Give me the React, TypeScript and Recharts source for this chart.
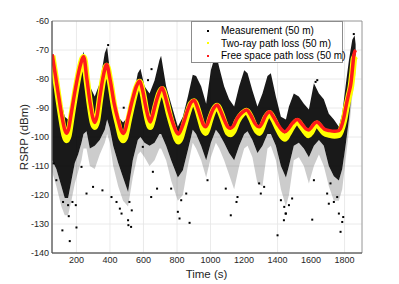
import React from "react";
import { Area, ComposedChart, CartesianGrid, Line, ReferenceArea, Scatter, XAxis, YAxis } from "recharts";

const measTime = [55, 80, 110, 130, 150, 170, 190, 210, 230, 242, 260, 280, 309, 339, 369, 383, 399, 419, 449, 478, 508, 536, 566, 582, 606, 636, 666, 695, 705, 735, 765, 805, 835, 865, 894, 914, 944, 974, 1002, 1032, 1052, 1081, 1111, 1141, 1171, 1201, 1221, 1250, 1280, 1310, 1340, 1360, 1390, 1420, 1450, 1468, 1497, 1527, 1557, 1587, 1617, 1647, 1676, 1706, 1736, 1766, 1786, 1806, 1826, 1846, 1860, 1866];
const measTop = [-71, -79, -88, -93, -94, -94, -88, -80, -73.5, -70.5, -77, -82.5, -86, -81.5, -71, -69, -77, -86, -93, -95, -93, -87, -78, -76.5, -82.5, -85, -80.5, -73.5, -72, -82.5, -88.5, -96.5, -93, -86, -78.5, -79, -82.5, -88.5, -77, -71, -76, -82.5, -87, -89.5, -82.5, -77, -78, -84, -89.5, -85, -79, -78, -86, -93, -94, -89.5, -85, -86, -88.5, -90.5, -81.5, -85, -87, -92, -94, -96.5, -92, -82.5, -73.5, -66.5, -65, -68];
const measLow = [-108, -111, -117, -121, -121, -115, -109, -106, -102, -99, -98, -104, -103, -101, -97.5, -94, -97, -103, -109, -114, -119, -108, -101, -100, -102, -103, -102, -99, -99, -103, -108, -114, -111.5, -104.5, -97.5, -99, -103, -108, -102, -97.5, -99, -102, -105.5, -108, -103, -99, -98, -101, -105.5, -103, -99, -99, -103, -110, -114, -110, -103, -102, -104, -107, -103, -101, -103, -110, -113.5, -115, -111, -103, -94, -82.5, -78, -76];
const measSparse = [-112, -117, -124, -127, -127, -122, -116, -112, -108, -104, -104, -110, -111, -106, -102, -99, -102, -110, -117, -122, -124, -114, -106, -105, -107, -110, -108, -104, -104, -108, -115, -122, -120, -110, -102, -104, -108, -114, -107, -102, -104, -108, -113, -118, -110, -104, -103, -107, -116, -117, -104, -103, -108, -118, -124, -120, -108, -107, -110, -116, -110, -106, -110, -117, -122, -122, -118, -108, -98, -86, -80, -78];

// isolated measurement points outside the cloud
const outlierTime = [116, 160, 200, 154, 120, 150, 176, 196, 299, 355, 260, 409, 439, 459, 469, 508, 510, 80, 64, 230, 482, 389, 526, 516, 530, 646, 681, 656, 805, 815, 825, 855, 875, 765, 596, 648, 627, 982, 1121, 1161, 1155, 1091, 1300, 1320, 1290, 1400, 1420, 1440, 1450, 1027, 1438, 1448, 1468, 1487, 1607, 1617, 1696, 1706, 1736, 1756, 1776, 1786, 1792, 1766, 1716, 1855, 1637, 1627];
const outlierValue = [-132.2, -135.9, -131.2, -127.3, -122.4, -123.5, -122.4, -123.5, -117.2, -118.4, -119.5, -120.7, -122.4, -124.7, -126.4, -128.7, -130.4, -114.9, -109.1, -110.3, -89.9, -68.3, -131, -122.4, -125.3, -120.7, -117.8, -112, -125.8, -128.1, -121.8, -119.5, -129.6, -117.8, -103.4, -76.6, -80.4, -114.9, -127, -120.7, -122.4, -117.8, -119.5, -117.2, -116, -133.9, -121.8, -124.1, -126.4, -66, -128.7, -126.4, -123.5, -121.2, -128.5, -114.9, -119.5, -123, -122.4, -120.7, -132.7, -129.3, -127.6, -126.4, -116, -64.5, -80.4, -81];

// model curves
const curveTime = [55, 75, 95, 115, 130, 140, 152, 170, 195, 220, 243, 262, 282, 298, 309, 322, 340, 360, 380, 400, 425, 450, 467, 478, 490, 510, 535, 558, 577, 595, 615, 630, 640, 652, 675, 695, 711, 730, 755, 780, 797, 808, 820, 840, 865, 885, 903, 920, 940, 958, 970, 982, 1000, 1020, 1040, 1060, 1085, 1105, 1120, 1135, 1160, 1190, 1215, 1240, 1265, 1280, 1292, 1305, 1330, 1352, 1375, 1400, 1425, 1444, 1462, 1490, 1518, 1545, 1570, 1585, 1600, 1620, 1635, 1655, 1680, 1710, 1740, 1765, 1780, 1795, 1810, 1825, 1838, 1848, 1856, 1866];
const freeSpace = [-71.5, -79, -86.5, -93.5, -97.5, -98.7, -97.5, -91.5, -83, -76, -72.3, -80, -88.5, -93.5, -95, -93, -86, -79, -75, -80, -88.5, -94.5, -97.8, -98.8, -97.8, -93, -87, -82.5, -80.7, -84, -90, -93.5, -94.8, -93, -88, -84.5, -83, -86, -91.5, -96, -98.3, -99, -98, -95, -90.5, -88, -87.4, -89.5, -93, -95.8, -96.5, -95.5, -92.5, -90, -89, -91, -94.5, -96.6, -97, -96.3, -93.5, -91.5, -90.7, -92.5, -95.3, -96.3, -96.5, -95.5, -92.5, -91.3, -93, -95.5, -97.5, -98.2, -97.3, -95.2, -94, -95.5, -97.2, -97.6, -96.8, -95.3, -94.8, -95.8, -97.3, -97.8, -98, -97.8, -96.5, -93.5, -89, -85, -81.5, -76, -71.5, -70];
const twoRay = [-72, -79.5, -87.5, -95, -99.5, -101, -99.5, -93, -84, -76.5, -72.5, -80.5, -89.5, -95, -96.5, -94.5, -87, -79.5, -75.5, -80.5, -89.5, -96, -100, -101, -100, -94.5, -88, -83, -81, -84.5, -91, -95, -96.5, -94.5, -89, -85, -83.5, -86.5, -92.5, -97.5, -100.5, -101.5, -100.5, -96.5, -91.5, -88.5, -87.8, -90, -94, -97.5, -98.5, -97, -93.5, -90.5, -89.3, -91.5, -95.5, -98.5, -99, -98, -94.5, -92, -91, -93.2, -96.5, -98, -98.5, -97, -93.3, -91.8, -93.8, -96.8, -99.5, -100.5, -99, -96.2, -94.6, -96.5, -98.5, -99.3, -98.3, -96.1, -95.4, -96.8, -98.6, -99.2, -99.5, -99.3, -97.5, -94.5, -90, -86, -82.5, -77.5, -73, -72];

const xTicks = [200, 400, 600, 800, 1000, 1200, 1400, 1600, 1800];
const yTicks = [-140, -130, -120, -110, -100, -90, -80, -70, -60];

type Row = { t: number; meas?: number[]; sparse?: number[]; fs?: number; tr?: number };

const rows: Row[] = [
  ...measTime.map((t, i) => ({ t, meas: [measLow[i], measTop[i]], sparse: [measSparse[i], measLow[i]] })),
  ...curveTime.map((t, i) => ({ t, fs: freeSpace[i], tr: twoRay[i] })),
].sort((a, b) => a.t - b.t);

const outliers = outlierTime.map((t, i) => ({ t, v: outlierValue[i] }));

const font = "Arial, 'Liberation Sans', Helvetica, sans-serif";
const tickStyle = { fill: "#262626", fontSize: 9, fontFamily: font };

const Dot = (props: any) => <rect x={props.cx - 1} y={props.cy - 1} width={2} height={2} fill="#000" />;

const legendRows = [
  { label: "Measurement (50 m)", color: "#000" },
  { label: "Two-ray path loss (50 m)", color: "#ffff00" },
  { label: "Free space path loss (50 m)", color: "#ff1a1a" },
];

export default function App() {
  return (
    <div style={{ position: "absolute", left: 0, top: 0, width: 399, height: 284, background: "#fff", fontFamily: font }}>
      <ComposedChart width={399} height={284} data={rows} margin={{ top: 21, right: 37, bottom: 0, left: 0 }}>
        <CartesianGrid stroke="#e4e4e4" strokeWidth={0.8} />
        <XAxis
          dataKey="t"
          type="number"
          domain={[54, 1904]}
          ticks={xTicks}
          allowDataOverflow
          height={31}
          tickLine={false}
          tickSize={3}
          tickMargin={1}
          axisLine={{ stroke: "#4d4d4d" }}
          tick={tickStyle}
        />
        <YAxis
          type="number"
          domain={[-140, -60]}
          ticks={yTicks}
          allowDataOverflow
          width={52}
          tickLine={false}
          tickSize={3}
          tickMargin={0}
          axisLine={{ stroke: "#4d4d4d" }}
          tick={tickStyle}
        />
        <Area dataKey="sparse" stroke="none" fill="#000" fillOpacity={0.2} connectNulls isAnimationActive={false} type="linear" />
        <Area dataKey="meas" stroke="none" fill="#000" fillOpacity={0.9} connectNulls isAnimationActive={false} type="linear" />
        <Scatter data={outliers} dataKey="v" shape={Dot} isAnimationActive={false} />
        <Line dataKey="tr" stroke="#ffff00" strokeWidth={6.5} dot={false} connectNulls isAnimationActive={false} type="monotone" />
        <Line dataKey="fs" stroke="#ff1a1a" strokeWidth={3.5} dot={false} connectNulls isAnimationActive={false} type="monotone" />
        <ReferenceArea x1={54} x2={1904} y1={-140} y2={-60} fill="none" stroke="#8a8a8a" strokeWidth={0.8} ifOverflow="visible" />
      </ComposedChart>

      <div style={{ position: "absolute", left: 191, top: 21, width: 152, height: 42, border: "1px solid #8c8c8c", background: "#fff", boxSizing: "border-box" }}>
        {legendRows.map((r, i) => (
          <div key={r.label} style={{ position: "absolute", left: 0, top: 2.5 + i * 12.7, height: 12, display: "flex", alignItems: "center", fontSize: 10, color: "#000", whiteSpace: "nowrap" }}>
            <span style={{ display: "inline-block", width: 2, height: 2, background: r.color, marginLeft: 15, marginRight: 12 }} />
            {r.label}
          </div>
        ))}
      </div>

      <div style={{ position: "absolute", left: 0, top: 268, width: 413, textAlign: "center", fontSize: 11.5, color: "#262626" }}>Time (s)</div>
      <div style={{ position: "absolute", left: 24, top: 137, transform: "translate(-50%, -50%) rotate(-90deg)", fontSize: 11.5, color: "#262626", whiteSpace: "nowrap" }}>RSRP (dBm)</div>
    </div>
  );
}
